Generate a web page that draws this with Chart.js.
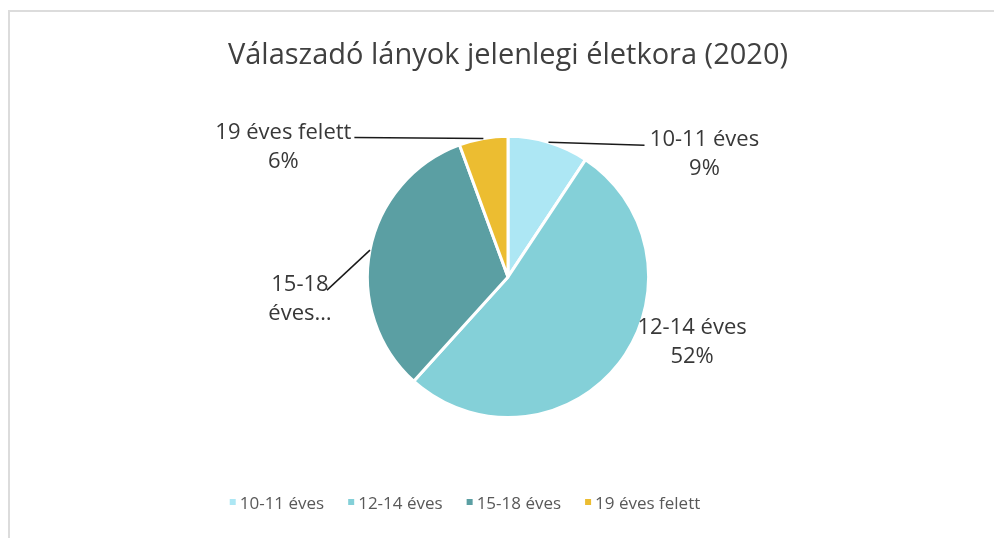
<!DOCTYPE html>
<html><head><meta charset="utf-8">
<script src="https://cdn.jsdelivr.net/npm/chart.js@4.4.1/dist/chart.umd.min.js"></script>
<style>
html,body{margin:0;padding:0;background:#fff;overflow:hidden;}
#wrap{position:relative;width:994px;height:538px;overflow:hidden;}
#frame{position:absolute;left:8px;top:10px;width:1100px;height:700px;border-top:2px solid #dcdcdc;border-left:2px solid #dcdcdc;}
canvas{position:absolute;left:0;top:0;}
</style></head><body>
<div id="wrap"><div id="frame"></div><canvas id="c" width="994" height="538"></canvas></div>
<script>
const chartTitle = 'Válaszadó lányok jelenlegi életkora (2020)';
const categories = ['10-11 éves', '12-14 éves', '15-18 éves', '19 éves felett'];
const values = [9.3, 52.4, 32.7, 5.6];
// label text as shown (one label is truncated in the original)
const labelNames = [['10-11 éves'], ['12-14 éves'], ['15-18', 'éves…'], ['19 éves felett']];
const showPercent = [true, true, false, true];
const colors = ['#ADE7F4', '#84D0D8', '#5B9FA3', '#ECBD31'];

// label placement relative to the slice's outer edge midpoint (styling only)
const labelPlacement = [
  {dx: 156, dy: 12, leader: [-60, -9]},
  {dx: 73, dy: -21, leader: null},
  {dx: -70, dy: 49, leader: [27, -9]},
  {dx: -200, dy: 9, leader: [71, -10]}
];

const FONT = "'Open Sans', 'Noto Sans', sans-serif";

const labelPlugin = {
  id: 'dataLabels',
  afterDatasetsDraw(chart) {
    const ctx = chart.ctx;
    const meta = chart.getDatasetMeta(0);
    const total = values.reduce((a, b) => a + b, 0);
    ctx.save();
    meta.data.forEach((arc, i) => {
      const p = arc.getProps(['x', 'y', 'startAngle', 'endAngle', 'outerRadius'], true);
      const mid = (p.startAngle + p.endAngle) / 2;
      const ex = p.x + Math.cos(mid) * p.outerRadius;
      const ey = p.y + Math.sin(mid) * p.outerRadius;
      const pl = labelPlacement[i];
      const lx = ex + pl.dx, ly = ey + pl.dy;
      if (pl.leader) {
        ctx.beginPath();
        ctx.strokeStyle = '#1a1a1a';
        ctx.lineWidth = 1.5;
        ctx.moveTo(ex, ey);
        ctx.lineTo(lx + pl.leader[0], ly + pl.leader[1]);
        ctx.stroke();
      }
      const lines = labelNames[i].slice();
      if (showPercent[i]) lines.push(Math.round(values[i] / total * 100) + '%');
      ctx.font = '22px ' + FONT;
      ctx.fillStyle = '#383838';
      ctx.textAlign = 'center';
      ctx.textBaseline = 'middle';
      const lh = 29;
      const y0 = ly - (lines.length - 1) * lh / 2;
      lines.forEach((t, k) => ctx.fillText(t, lx, y0 + k * lh));
    });
    ctx.restore();
  }
};

const legendPlugin = {
  id: 'bottomLegend',
  afterDraw(chart) {
    const ctx = chart.ctx;
    ctx.save();
    ctx.font = '17px ' + FONT;
    ctx.textBaseline = 'middle';
    ctx.textAlign = 'left';
    const box = 6, gap = 4, spacing = 24;
    const widths = categories.map(c => box + gap + ctx.measureText(c).width);
    const totalW = widths.reduce((a, b) => a + b, 0) + spacing * (categories.length - 1);
    const cx = chart.chartArea.left + (chart.chartArea.right - chart.chartArea.left) / 2 - 43;
    const cy = chart.chartArea.bottom + 84;
    let x = cx - totalW / 2;
    categories.forEach((c, i) => {
      ctx.fillStyle = colors[i];
      ctx.fillRect(x, cy - box / 2 - 1, box, box);
      ctx.fillStyle = '#595959';
      ctx.fillText(c, x + box + gap, cy + 1);
      x += widths[i] + spacing;
    });
    ctx.restore();
  }
};

new Chart(document.getElementById('c'), {
  type: 'pie',
  data: {
    labels: categories,
    datasets: [{data: values, backgroundColor: colors, borderColor: '#ffffff', borderWidth: 3, hoverOffset: 0}]
  },
  options: {
    responsive: false,
    animation: false,
    layout: {padding: {left: 22, right: 0, top: 0, bottom: 119}},
    plugins: {
      title: {
        display: true, text: chartTitle, color: '#404040',
        font: {family: FONT, size: 29, weight: 'normal'},
        padding: {top: 38, bottom: 62}
      },
      legend: {display: false},
      tooltip: {enabled: false}
    }
  },
  plugins: [labelPlugin, legendPlugin]
});
</script>
</body></html>
